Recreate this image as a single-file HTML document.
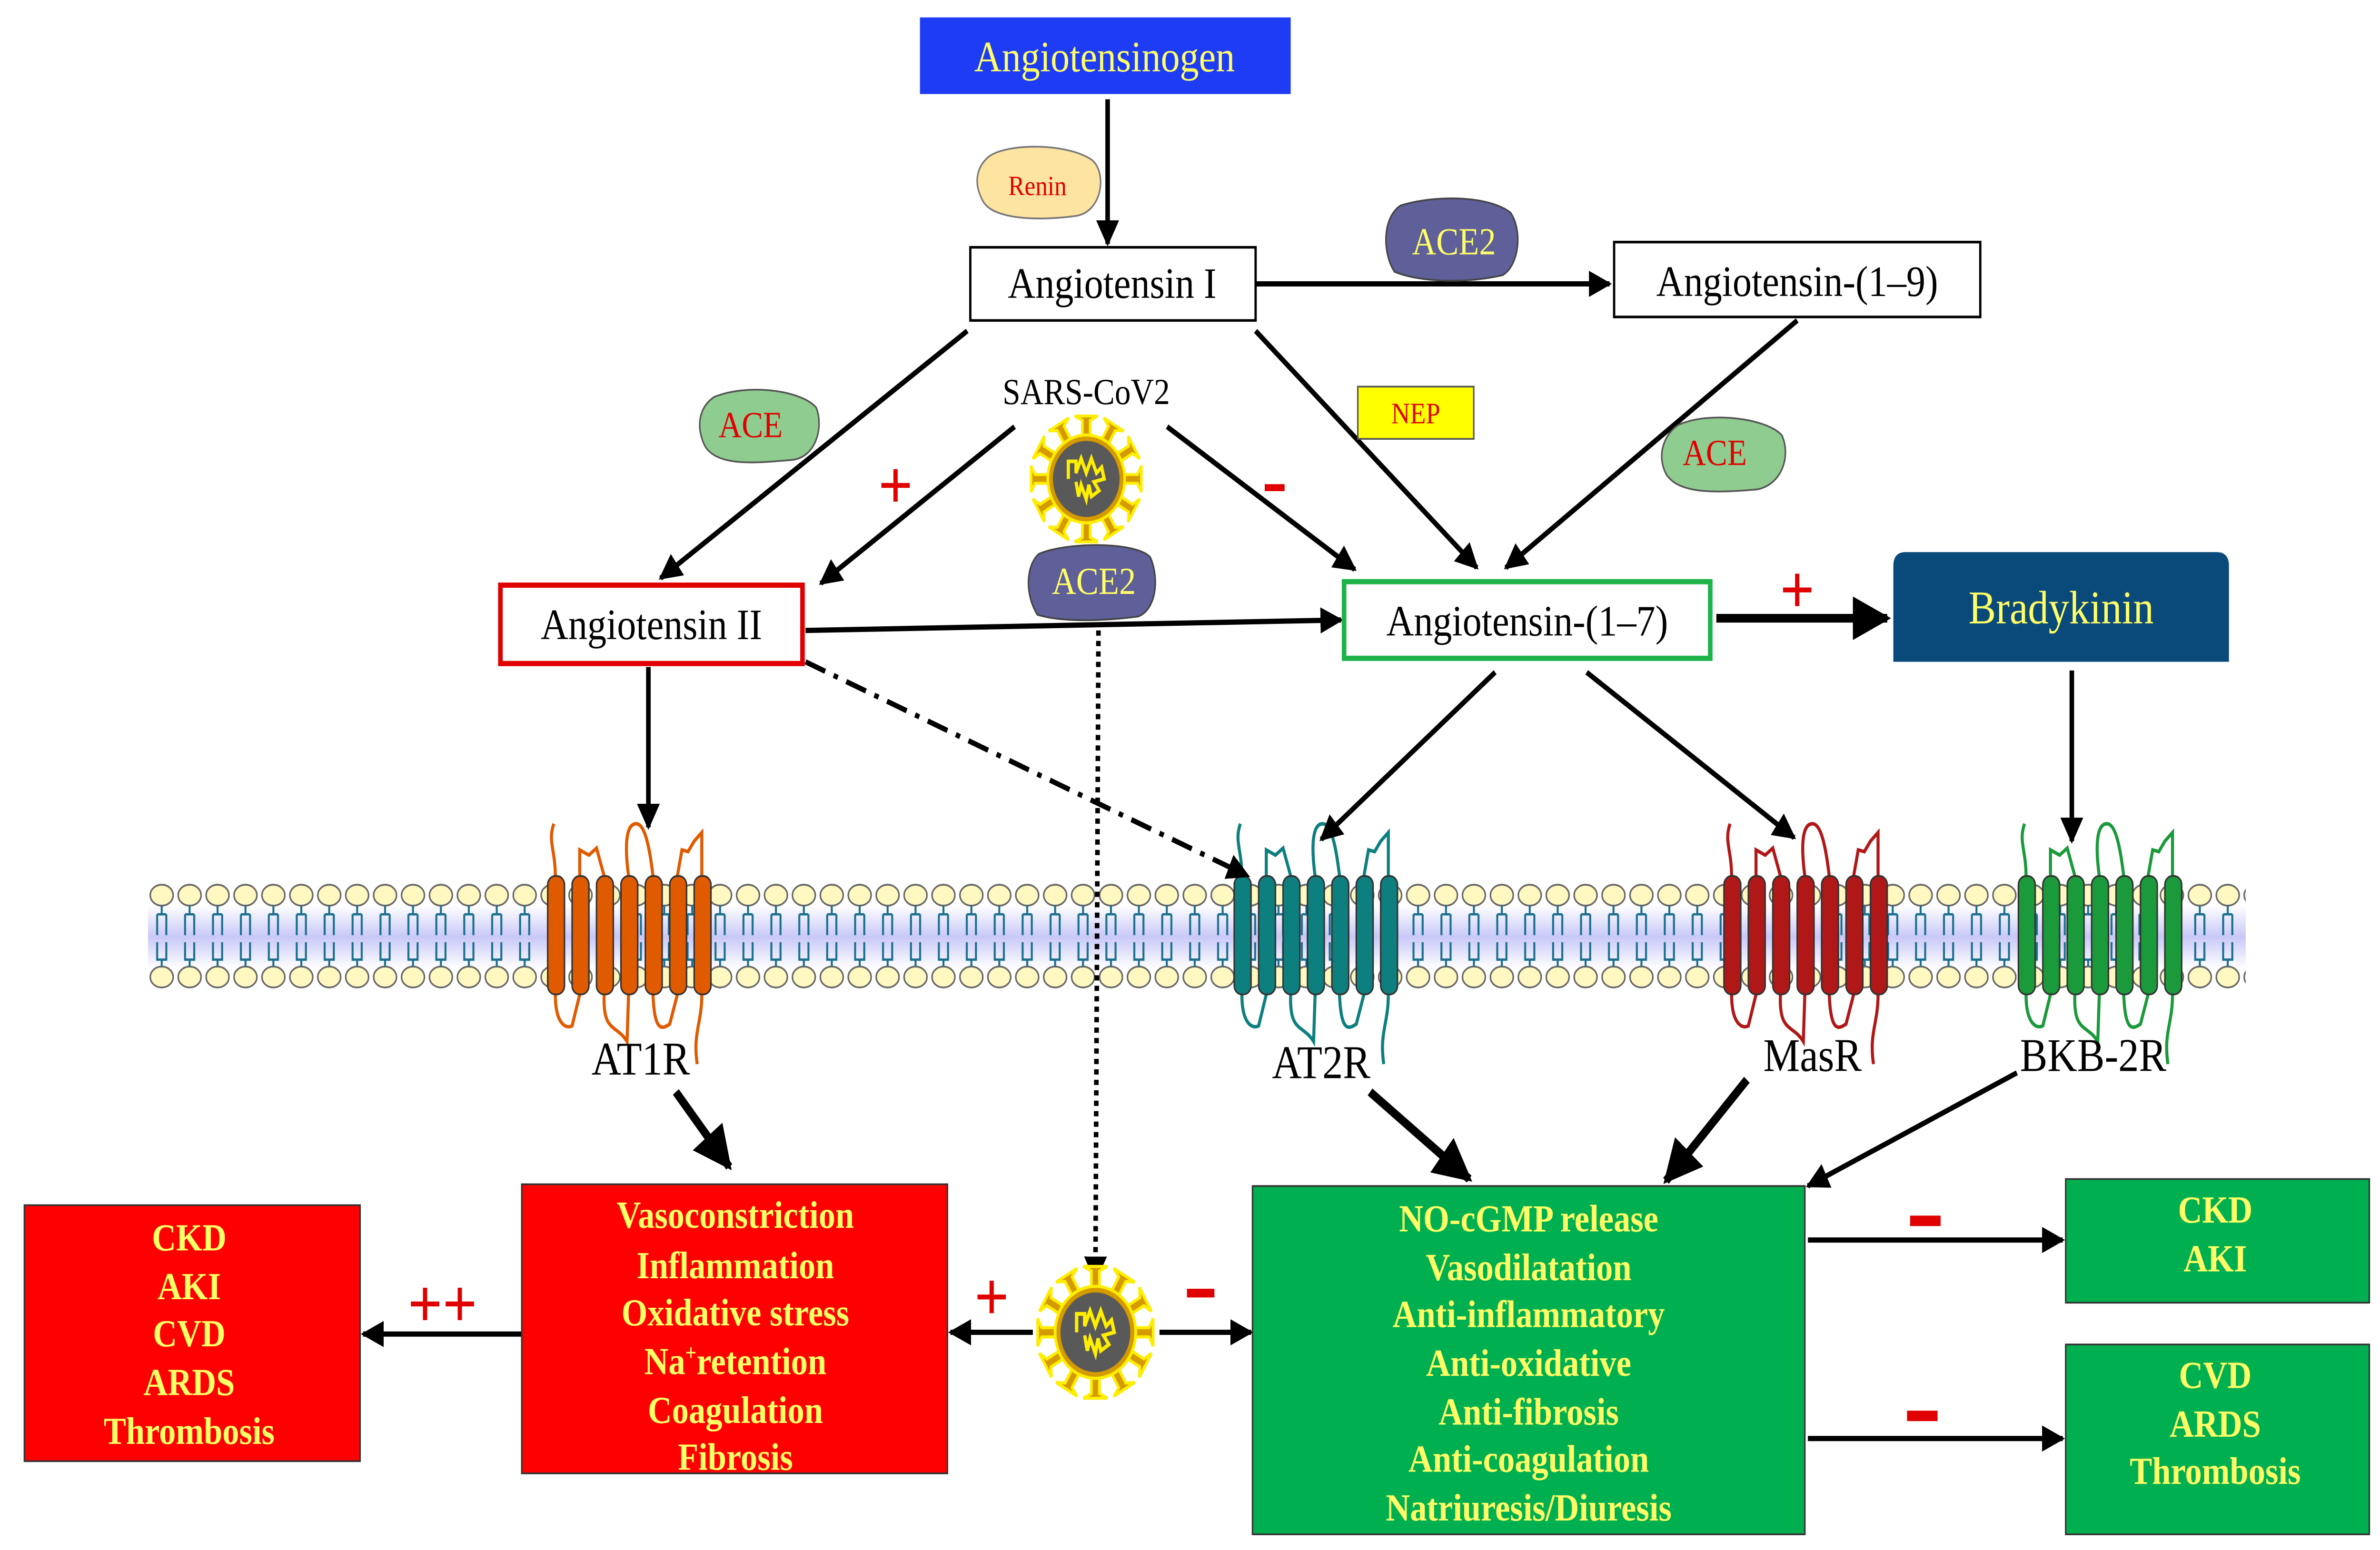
<!DOCTYPE html>
<html><head><meta charset="utf-8"><style>
html,body{margin:0;padding:0;background:#fff;overflow:hidden;width:100%;height:100%}
svg{display:block;width:100vw;height:100vh;position:absolute;left:0;top:0}
text{font-family:"Liberation Serif",serif}
</style></head><body>
<svg viewBox="0 0 1560 890" preserveAspectRatio="none" xmlns="http://www.w3.org/2000/svg">
<defs>
<marker id="a" viewBox="0 0 10 10" refX="9" refY="5" markerWidth="5" markerHeight="5" orient="auto"><path d="M0,0L10,5L0,10z" fill="#000"/></marker>
<linearGradient id="mg" x1="0" y1="0" x2="0" y2="1"><stop offset="0" stop-color="#fff"/><stop offset="0.5" stop-color="#c8c8f8"/><stop offset="1" stop-color="#fff"/></linearGradient>
<pattern id="lip" x="97" y="505" width="18.3" height="70" patternUnits="userSpaceOnUse">
<ellipse cx="9" cy="9" rx="7.5" ry="6" fill="#fff8c0" stroke="#666" stroke-width="1"/>
<ellipse cx="9" cy="56" rx="7.5" ry="6" fill="#fff8c0" stroke="#666" stroke-width="1"/>
<path d="M9,15v5M6,20h6M6,20v12M12,20v12M6,36v10h6v-10M9,46v4" stroke="#1a6f8f" stroke-width="1.3" fill="none"/>
</pattern>
<symbol id="v" viewBox="-50 -50 100 100">
<g stroke="#ffee00" stroke-width="2" fill="#d49a00">
<g id="sp"><path d="M-3,-30L-3,-40L-9,-43L9,-43L3,-40L3,-30z"/></g>
<use href="#sp" transform="rotate(30)"/><use href="#sp" transform="rotate(60)"/><use href="#sp" transform="rotate(90)"/>
<use href="#sp" transform="rotate(120)"/><use href="#sp" transform="rotate(150)"/><use href="#sp" transform="rotate(180)"/>
<use href="#sp" transform="rotate(210)"/><use href="#sp" transform="rotate(240)"/><use href="#sp" transform="rotate(270)"/>
<use href="#sp" transform="rotate(300)"/><use href="#sp" transform="rotate(330)"/>
</g>
<circle r="30" fill="#d49a00" stroke="#ffee00" stroke-width="2"/>
<circle r="26" fill="#595959"/>
<path d="M-14,0L-14,-12L-8,-12L-8,-4L-4,-14L0,-4L4,-14L8,-4L12,-8L14,0L6,2L10,8L4,12L2,4L0,14L-4,4L-6,12L-8,2" stroke="#ffee00" stroke-width="2.5" fill="none"/>
</symbol>
<g id="helix7">
<rect x="0" y="0" width="11" height="68" rx="5" stroke="#333" stroke-width="1"/>
<rect x="16" y="0" width="11" height="68" rx="5" stroke="#333" stroke-width="1"/>
<rect x="32" y="0" width="11" height="68" rx="5" stroke="#333" stroke-width="1"/>
<rect x="48" y="0" width="11" height="68" rx="5" stroke="#333" stroke-width="1"/>
<rect x="64" y="0" width="11" height="68" rx="5" stroke="#333" stroke-width="1"/>
<rect x="80" y="0" width="11" height="68" rx="5" stroke="#333" stroke-width="1"/>
<rect x="96" y="0" width="11" height="68" rx="5" stroke="#333" stroke-width="1"/>
</g>
<g id="loops" fill="none" stroke-width="2">
<path d="M5,0C5,-15 0,-20 4,-30"/>
<path d="M21,0L21,-15L27,-12L32,-16L37,0"/>
<path d="M53,0C50,-20 52,-30 58,-30C64,-30 67,-15 69,0"/>
<path d="M85,0L88,-15L92,-14L96,-20L101,-25L101,0"/>
<path d="M5,68C5,85 12,88 16,86L21,68"/>
<path d="M37,68C36,90 45,85 52,95L53,68"/>
<path d="M69,68C70,90 75,88 80,85L85,68"/>
<path d="M101,68C101,85 95,90 98,108"/>
</g>
</defs>

<rect x="97" y="520" width="1375" height="36" fill="url(#mg)"/>
<rect x="97" y="505" width="1375" height="70" fill="url(#lip)"/>

<g fill="#e05a00" stroke="#e05a00"><use href="#loops" x="359" y="503"/></g>
<g fill="#e05a00"><use href="#helix7" x="359" y="503"/></g>
<g fill="#0e7f7f" stroke="#0e7f7f"><use href="#loops" x="809" y="503"/></g>
<g fill="#0e7f7f"><use href="#helix7" x="809" y="503"/></g>
<g fill="#b01818" stroke="#b01818"><use href="#loops" x="1130" y="503"/></g>
<g fill="#b01818"><use href="#helix7" x="1130" y="503"/></g>
<g fill="#1a9a3a" stroke="#1a9a3a"><use href="#loops" x="1323" y="503"/></g>
<g fill="#1a9a3a"><use href="#helix7" x="1323" y="503"/></g>

<text x="420" y="617" font-size="27" text-anchor="middle">AT1R</text>
<text x="866" y="619" font-size="27" text-anchor="middle">AT2R</text>
<text x="1188" y="615" font-size="27" text-anchor="middle">MasR</text>
<text x="1372" y="615" font-size="27" text-anchor="middle">BKB-2R</text>

<g stroke="#000" stroke-width="3" fill="none" marker-end="url(#a)">
<path d="M726,57L726,140"/>
<path d="M823,163L1055,163"/>
<path d="M634,190L433,332"/>
<path d="M665,245L538,335"/>
<path d="M765,245L888,327"/>
<path d="M823,190L968,326"/>
<path d="M1178,184L987,326"/>
<path d="M528,362L879,356"/>
<path d="M425,383L425,475"/>
<path d="M528,380L818,503" stroke-dasharray="14,6,3,6"/>
<path d="M720,362L718,735" stroke-dasharray="3,3"/>
<path d="M980,386L866,482"/>
<path d="M1040,386L1176,481"/>
<path d="M1358,385L1358,483"/>
<path d="M1322,616L1185,681"/>
<path d="M342,766L238,766"/>
<path d="M677,765L623,765"/>
<path d="M760,765L820,765"/>
<path d="M1185,712L1352,712"/>
<path d="M1185,826L1352,826"/>
</g>
<g stroke="#000" stroke-width="5" fill="none" marker-end="url(#a)">
<path d="M1125,355L1237,355"/>
<path d="M443,627L478,670"/>
<path d="M898,627L963,677"/>
<path d="M1145,620L1092,678"/>
</g>

<rect x="603" y="10" width="243" height="44" fill="#1f3cf5"/>
<text x="724" y="41" font-size="25" fill="#ffff66" text-anchor="middle">Angiotensinogen</text>
<path d="M648,90C660,82 700,82 716,92C726,100 722,122 705,124C680,127 650,126 644,115C638,105 640,96 648,90z" fill="#fde4a0" stroke="#777"/>
<text x="680" y="112" font-size="16" fill="#e00000" text-anchor="middle">Renin</text>
<rect x="636" y="142" width="187" height="42" fill="#fff" stroke="#000" stroke-width="1.5"/>
<text x="729" y="171" font-size="25" text-anchor="middle">Angiotensin I</text>
<path d="M918,118C940,112 975,112 990,122C998,132 996,152 985,158C960,163 930,162 914,156C906,145 906,125 918,118z" fill="#5f5f9a" stroke="#444"/>
<text x="953" y="146" font-size="22" fill="#ffff66" text-anchor="middle">ACE2</text>
<rect x="1058" y="139" width="240" height="43" fill="#fff" stroke="#000" stroke-width="1.5"/>
<text x="1178" y="170" font-size="25" text-anchor="middle">Angiotensin-(1–9)</text>
<path d="M468,228C490,220 525,224 535,234C540,245 535,262 520,264C495,266 470,268 462,256C456,245 458,234 468,228z" fill="#8fcc8f" stroke="#555"/>
<text x="492" y="251" font-size="21" fill="#e00000" text-anchor="middle">ACE</text>
<text x="712" y="232" font-size="21" text-anchor="middle">SARS-CoV2</text>
<use href="#v" x="670" y="233" width="84" height="84"/>
<path d="M681,318C700,311 745,311 754,320C760,332 758,350 746,354C720,357 695,357 680,353C672,342 672,325 681,318z" fill="#5f5f9a" stroke="#444"/>
<text x="717" y="341" font-size="22" fill="#ffff66" text-anchor="middle">ACE2</text>
<rect x="890" y="222" width="76" height="30" fill="#ffff00" stroke="#555"/>
<text x="928" y="243" font-size="17" fill="#e00000" text-anchor="middle">NEP</text>
<path d="M1100,244C1120,236 1158,240 1168,250C1174,262 1168,278 1152,281C1125,283 1100,284 1092,272C1086,262 1090,250 1100,244z" fill="#8fcc8f" stroke="#555"/>
<text x="1124" y="267" font-size="21" fill="#e00000" text-anchor="middle">ACE</text>

<text x="587" y="292" font-size="40" fill="#e00000" text-anchor="middle" font-weight="bold">+</text>
<rect x="829" y="278" width="13" height="4" fill="#e00000"/>
<text x="1178" y="352" font-size="40" fill="#e00000" text-anchor="middle" font-weight="bold">+</text>

<rect x="328" y="336" width="198" height="45" fill="#fff" stroke="#e00000" stroke-width="3"/>
<text x="427" y="367" font-size="25" text-anchor="middle">Angiotensin II</text>
<rect x="881" y="334" width="240" height="44" fill="#fff" stroke="#1db34a" stroke-width="3"/>
<text x="1001" y="365" font-size="25" text-anchor="middle">Angiotensin-(1–7)</text>
<path d="M1241,380L1241,325Q1241,317 1249,317L1453,317Q1461,317 1461,325L1461,380z" fill="#0a4a7a"/>
<text x="1351" y="358" font-size="27" fill="#ffff66" text-anchor="middle">Bradykinin</text>

<g font-size="22" font-weight="bold" fill="#ffff66" text-anchor="middle">
<rect x="16" y="692" width="220" height="147" fill="#ff0000" stroke="#333"/>
<text x="124" y="718">CKD</text><text x="124" y="746">AKI</text><text x="124" y="773">CVD</text><text x="124" y="801">ARDS</text><text x="124" y="829">Thrombosis</text>
<rect x="342" y="680" width="279" height="166" fill="#ff0000" stroke="#333"/>
<text x="482" y="705">Vasoconstriction</text><text x="482" y="734">Inflammation</text><text x="482" y="761">Oxidative stress</text><text x="482" y="789">Na<tspan font-size="13" dy="-8">+</tspan><tspan dy="8">retention</tspan></text><text x="482" y="817">Coagulation</text><text x="482" y="844">Fibrosis</text>
<rect x="821" y="681" width="362" height="200" fill="#00b050" stroke="#333"/>
<text x="1002" y="707">NO-cGMP release</text><text x="1002" y="735">Vasodilatation</text><text x="1002" y="762">Anti-inflammatory</text><text x="1002" y="790">Anti-oxidative</text><text x="1002" y="818">Anti-fibrosis</text><text x="1002" y="845">Anti-coagulation</text><text x="1002" y="873">Natriuresis/Diuresis</text>
<rect x="1354" y="677" width="199" height="71" fill="#00b050" stroke="#333"/>
<text x="1452" y="702">CKD</text><text x="1452" y="730">AKI</text>
<rect x="1354" y="772" width="199" height="109" fill="#00b050" stroke="#333"/>
<text x="1452" y="797">CVD</text><text x="1452" y="825">ARDS</text><text x="1452" y="852">Thrombosis</text>
</g>
<use href="#v" x="674" y="721" width="88" height="88"/>
<text x="290" y="762" font-size="40" fill="#e00000" text-anchor="middle" font-weight="bold">++</text>
<text x="650" y="758" font-size="40" fill="#e00000" text-anchor="middle" font-weight="bold">+</text>
<rect x="778" y="740" width="18" height="5" fill="#e00000"/>
<rect x="1252" y="698" width="20" height="6" fill="#e00000"/>
<rect x="1250" y="810" width="20" height="6" fill="#e00000"/>
</svg>
</body></html>
